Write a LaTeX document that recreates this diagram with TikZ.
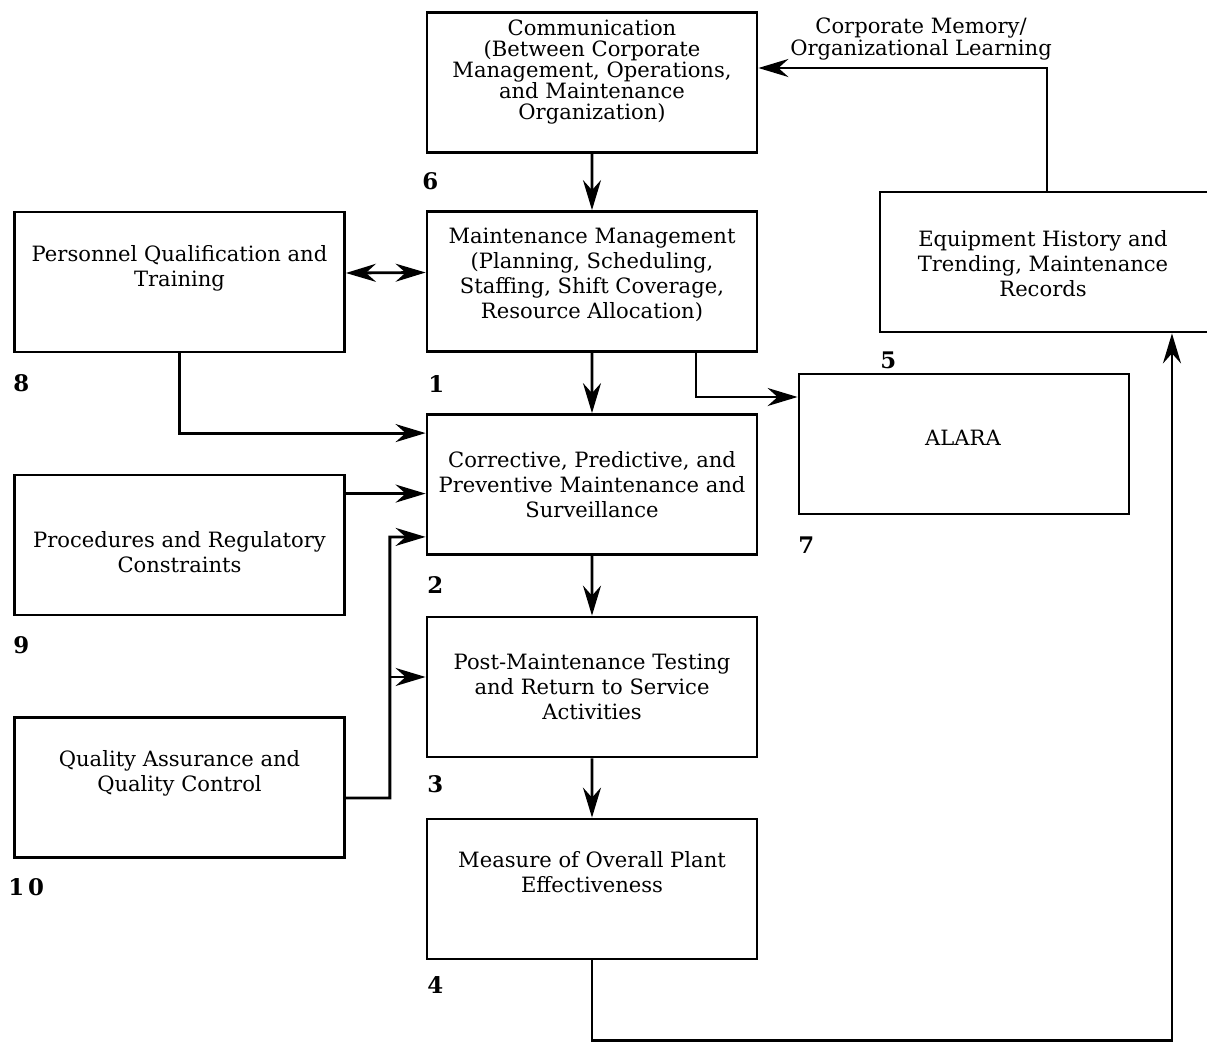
\documentclass[tikz,border=0pt]{standalone}
\usepackage{fontspec}
\setmainfont{DejaVu Serif}
\usetikzlibrary{arrows.meta}
\begin{document}
\begin{tikzpicture}[scale=0.2,
	box/.style={draw=black, line width=1.6pt, minimum width=6.6cm, minimum height=2.8cm, inner sep=0pt},
	txt/.style={align=center, inner sep=0pt, font=\fontsize{12}{14.2}\selectfont},
	tight/.style={align=center, inner sep=0pt, font=\fontsize{12}{12}\selectfont},
	num/.style={anchor=west, inner sep=0pt, font=\fontsize{13}{14}\selectfont\bfseries},
	flow/.style={line width=1.6pt, -{Stealth[length=6mm, width=3.6mm, inset=2mm]}},
	both/.style={line width=1.6pt, {Stealth[length=6mm, width=3.6mm, inset=2mm]}-{Stealth[length=6mm, width=3.6mm, inset=2mm]}}]
	\useasboundingbox (0,0) rectangle (120.7,-104.3);
	% boxes (shifts in mm come out as pixels at this scale)
	\node [box] (b6) at (59.2,-8.25) {};
	\node [tight] (t6) at (59.2,-7.2) {Communication\\(Between Corporate\\Management, Operations,\\and Maintenance\\Organization)};
	\node [num] (n6) at (42.2,-18.1) {6};
	\node [box] (b1) at (59.2,-28.15) {};
	\node [txt] (t1) at (59.2,-27.5) {Maintenance Management\\(Planning, Scheduling,\\Staffing, Shift Coverage,\\Resource Allocation)};
	\node [num] (n1) at (42.8,-38.4) {1};
	\node [box] (b8) at (17.95,-28.2) {};
	\node [txt] (t8) at (17.95,-26.8) {Personnel Qualification and\\Training};
	\node [num] (n8) at (1.3,-38.3) {8};
	\node [box, minimum width=7cm] (b5) at (105.5,-26.2) {};
	\node [txt] (t5) at (104.3,-26.4) {Equipment History and\\Trending, Maintenance\\Records};
	\node [num] (n5) at (88,-36) {5};
	\node [box] (b7) at (96.4,-44.4) {};
	\node [txt] (t7) at (96.3,-43.8) {ALARA};
	\node [num] (n7) at (79.8,-54.5) {7};
	\node [box] (b2) at (59.2,-48.45) {};
	\node [txt] (t2) at (59.2,-48.5) {Corrective, Predictive, and\\Preventive Maintenance and\\Surveillance};
	\node [num] (n2) at (42.7,-58.5) {2};
	\node [box] (b9) at (17.95,-54.5) {};
	\node [txt] (t9) at (17.95,-55.2) {Procedures and Regulatory\\Constraints};
	\node [num] (n9) at (1.3,-64.5) {9};
	\node [box] (b3) at (59.2,-68.7) {};
	\node [txt] (t3) at (59.2,-68.7) {Post-Maintenance Testing\\and Return to Service\\Activities};
	\node [num] (n3) at (42.7,-78.4) {3};
	\node [box] (b10) at (17.95,-78.75) {};
	\node [txt] (t10) at (17.95,-77.3) {Quality Assurance and\\Quality Control};
	\node [num] (n10) at (0.8,-88.7) {1\,0};
	\node [box] (b4) at (59.2,-88.9) {};
	\node [txt] (t4) at (59.2,-87.2) {Measure of Overall Plant\\Effectiveness};
	\node [num] (n4) at (42.7,-98.5) {4};
	% connectors
	\coordinate (p9) at ([yshift=-20mm]b9.north east);
	\coordinate (p10) at ([yshift=-10.5mm]b10.east);
	\coordinate (q10) at ([xshift=44mm]p10);
	\coordinate (c3) at ([yshift=10mm]b3.west);
	\coordinate (c5) at ([xshift=117mm]b5.south);
	\draw [flow] (b6) -- (b1);
	\draw [both] ([yshift=9mm]b8.east) -- ([yshift=9mm]b1.west);
	\draw [flow] (b1) -- (b2);
	\draw [flow] ([xshift=104mm]b1.south) |- ([yshift=47mm]b7.west);
	\draw [flow] (b8.south) |- ([yshift=-20mm]b2.north west);
	\draw [flow] (p9) -- (p9 -| b2.west);
	\draw [flow] (p10) -- (q10) |- ([yshift=19mm]b2.south west);
	\draw [flow] (q10 |- c3) -- (c3);
	\draw [flow] (b2) -- (b3);
	\draw [flow] (b3) -- (b4);
	\draw [flow] (b4.south) -- ++(0,-8) -| (c5);
	\draw [flow] ([xshift=-8mm]b5.north) |- ([yshift=14.5mm]b6.east);
	\node [tight] (memo) at (92.1,-3.9) {Corporate Memory/\\Organizational Learning};
\end{tikzpicture}
\end{document}
